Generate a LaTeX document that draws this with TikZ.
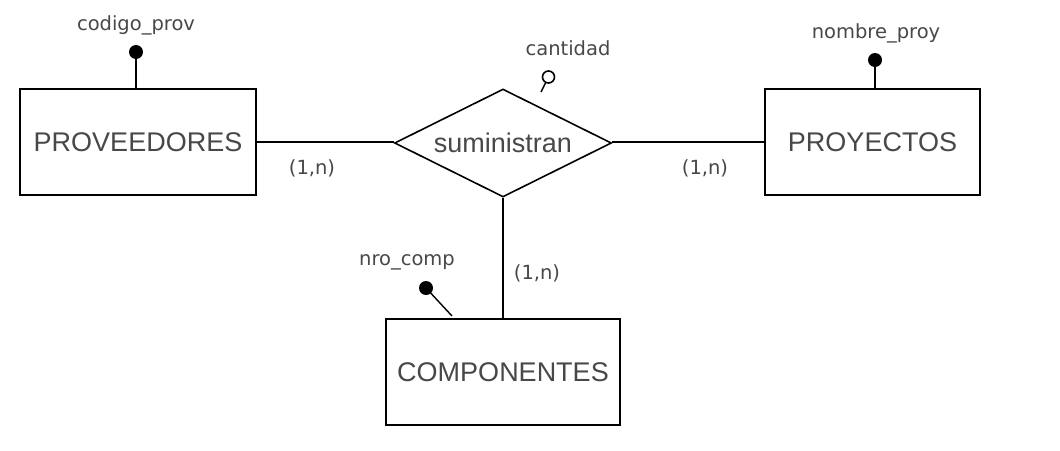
\documentclass[tikz,border=0pt]{standalone}
\usepackage{fontspec}
\setmainfont{Liberation Sans}
\newfontfamily\smallfont{DejaVu Sans}
\usetikzlibrary{shapes.geometric}
\definecolor{txtgray}{HTML}{484848}
\begin{document}
\begin{tikzpicture}[x=1pt,y=-1pt,
  entity/.style={draw=black,line width=1.8pt,minimum width=236pt,minimum height=106pt,inner sep=0pt,
    text=txtgray,font=\fontsize{27}{30}\selectfont},
  relation/.style={draw=black,line width=1.6pt,diamond,aspect=2,minimum width=217pt,minimum height=108pt,inner sep=0pt,
    text=txtgray,font=\fontsize{27}{30}\selectfont},
  lbl/.style={text=txtgray,font=\smallfont\fontsize{19.5}{22}\selectfont,inner sep=0pt},
  conn/.style={draw=black,line width=1.7pt},
  keydot/.style={circle,fill=black,minimum size=14pt,inner sep=0pt},
  opendot/.style={circle,draw=black,line width=1.6pt,fill=white,minimum size=12pt,inner sep=0pt}]
\useasboundingbox[fill=white] (0,0) rectangle (1060,450);
\node[entity] (prov) at (138,142) {PROVEEDORES};
\node[entity,minimum width=215pt] (proy) at (872.5,142) {PROYECTOS};
\node[entity,minimum width=234pt] (comp) at (503,372) {COMPONENTES};
\node[relation] (sum) at (503,143) {suministran};
% relationship connectors
\draw[conn] (prov.east) -- (prov.east -| sum.west);
\draw[conn] (sum.east |- proy.west) -- (proy.west);
\draw[conn] (sum.south) -- (comp.north);
\node[lbl] (c1) at (312,168) {(1,n)};
\node[lbl] (c2) at (705,168) {(1,n)};
\node[lbl] (c3) at (537,273) {(1,n)};
% attributes
\node[keydot] (kprov) at (136,52) {};
\draw[conn] (kprov.center) -- (kprov.center |- prov.north);
\node[lbl] (aprov) at (136,25) {codigo\_prov};
\node[keydot] (kproy) at (875,60) {};
\draw[conn] (kproy.center) -- (kproy.center |- proy.north);
\node[lbl] (aproy) at (876,33) {nombre\_proy};
\coordinate (ccomp) at (452,316);
\node[keydot] (kcomp) at (426,288) {};
\draw[conn,line width=1.4pt] (kcomp.center) -- (ccomp);
\node[lbl] (acomp) at (407,262) {nro\_comp};
\coordinate (csum) at (541,92);
\node[opendot] (osum) at (548.5,77) {};
\draw[conn,line width=1.4pt] (csum) -- (osum);
\node[lbl] (asum) at (568,48) {cantidad};
\end{tikzpicture}
\end{document}
